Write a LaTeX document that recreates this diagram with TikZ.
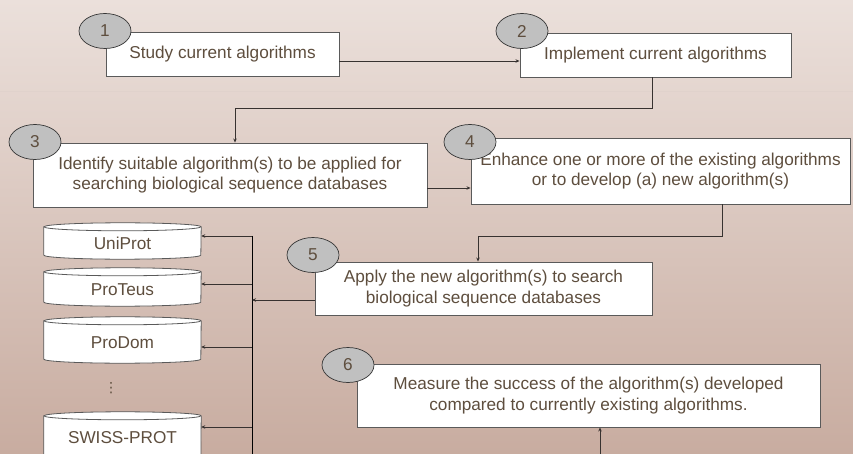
\documentclass[tikz,border=0pt]{standalone}
\usepackage{fontspec}
\setmainfont{Liberation Sans}
\newfontfamily\symfont{DejaVu Sans}
\usetikzlibrary{arrows.meta,calc,shapes.geometric}
\definecolor{bgtop}{RGB}{235,224,219}
\definecolor{bgbot}{RGB}{200,172,160}
\definecolor{txt}{RGB}{94,78,62}
\definecolor{bord}{RGB}{90,90,90}
\definecolor{conn}{RGB}{55,50,48}
\definecolor{numfill}{RGB}{192,192,192}
\definecolor{faint}{RGB}{224,210,204}
\newcommand\dbdraw[1]{%
  \path[fill=white,draw=bord,line width=0.8pt]
    ([yshift=-4pt]#1.north west) -- ([yshift=4pt]#1.south west)
    arc[start angle=180,end angle=360,x radius=78.5pt,y radius=4pt]
    -- ([yshift=-4pt]#1.north east)
    arc[start angle=0,end angle=180,x radius=78.5pt,y radius=4pt] -- cycle;
  \draw[bord,line width=0.8pt] ([yshift=-4pt]#1.north west)
    arc[start angle=180,end angle=360,x radius=78.5pt,y radius=4pt];}
\begin{document}
\begin{tikzpicture}[x=1pt,y=-1pt,
  font=\fontsize{17.2}{20.5}\selectfont,
  stepbox/.style={draw=bord, line width=0.9pt, fill=white, text=txt, align=center, inner sep=0pt},
  numell/.style={ellipse, draw=bord!60!black, line width=0.7pt, fill=numfill, text=txt,
                 minimum width=52pt, minimum height=35pt, inner sep=0pt},
  arr/.style={draw=conn, line width=0.8pt, -{Stealth[length=4pt,width=3.5pt]}},
  dbgeo/.style={minimum width=157pt, inner sep=0pt, draw=none},
  dblabel/.style={text=txt, inner sep=0pt},
]
\useasboundingbox (0,0) rectangle (853,454);
\begin{scope}
\clip (0,0) rectangle (853,454);
\shade[top color=bgtop,bottom color=bgbot] (0,0) rectangle (853,454);
\draw[faint,line width=0.6pt] (0,91) -- (853,91);

% step boxes
\node[stepbox, minimum width=233pt, minimum height=44pt] (b1) at (222.5,54) {Study current algorithms};
\node[stepbox, minimum width=271pt, minimum height=44pt] (b2) at (655.5,55) {Implement current algorithms};
\node[stepbox, minimum width=394pt, minimum height=64pt] (b3) at (230,175) {Identify suitable algorithm(s) to be applied for\\searching biological sequence databases};
\node[stepbox, minimum width=379pt, minimum height=66pt] (b4) at (660.5,171) {Enhance one or more of the existing algorithms\\or to develop (a) new algorithm(s)};
\node[stepbox, minimum width=337pt, minimum height=53pt] (b5) at (483.5,288.5) {Apply the new algorithm(s) to search\\biological sequence databases};
\node[stepbox, minimum width=463pt, minimum height=63pt] (b6) at (588.5,395.5) {Measure the success of the algorithm(s) developed\\compared to currently existing algorithms.};

% number ellipses
\node[numell] (e1) at (105,31) {1};
\node[numell] (e2) at (522,31) {2};
\node[numell] (e3) at (35,142) {3};
\node[numell] (e4) at (470,142) {4};
\node[numell] (e5) at (313,255) {5};
\node[numell] (e6) at (348,365) {6};

% databases
\path node[dbgeo, minimum height=36pt] (uni) at (122.5,241) {};
\path node[dbgeo, minimum height=38pt] (pte) at (122.5,287) {};
\path node[dbgeo, minimum height=46pt] (pdo) at (122.5,340) {};
\path node[dbgeo, minimum height=58pt] (swi) at (122.5,441) {};
\dbdraw{uni}
\dbdraw{pte}
\dbdraw{pdo}
\dbdraw{swi}
\node[dblabel] (tuni) at (122.5,243) {UniProt};
\node[dblabel] (tpte) at (122.5,290) {ProTeus};
\node[dblabel] (tpdo) at (122.5,343) {ProDom};
\node[dblabel] (tswi) at (122.5,438) {SWISS-PROT};
\node[dblabel, font=\symfont\fontsize{14}{14}\selectfont] (dots) at (111,388) {⋮};

% connectors
\draw[arr] ([yshift=-7pt]b1.east) -- ([yshift=-7pt]b1.east -| b2.west);
\coordinate (k1) at (235,108);
\draw[arr] ([xshift=-3.5pt]b2.south) |- (k1) -- (k1 |- b3.north);
\draw[arr] ([yshift=-13pt]b3.east) -- ([yshift=-13pt]b3.east -| b4.west);
\coordinate (k2) at (478,236);
\draw[arr] ([xshift=61.5pt]b4.south) |- (k2) -- (k2 |- b5.north);

\coordinate (bustop) at (252,236);
\coordinate (busbot) at (252,460);
\draw[black,line width=0.9pt] (bustop) -- (busbot);
\coordinate (p5) at ([yshift=-11.5pt]b5.west);
\draw[arr] (p5) -- (p5 -| bustop);
\coordinate (u1) at ([yshift=5pt]uni.east);
\coordinate (u2) at ([yshift=3pt]pte.east);
\coordinate (u3) at ([yshift=-7pt]pdo.east);
\coordinate (u4) at ([yshift=14pt]swi.east);
\draw[arr] (u1 -| bustop) -- (u1);
\draw[arr] (u2 -| bustop) -- (u2);
\draw[arr] (u3 -| bustop) -- (u3);
\draw[arr] (u4 -| bustop) -- (u4);

\coordinate (bot6) at (600,460);
\draw[arr] (bot6) -- (bot6 |- b6.south);
\end{scope}
\end{tikzpicture}
\end{document}
